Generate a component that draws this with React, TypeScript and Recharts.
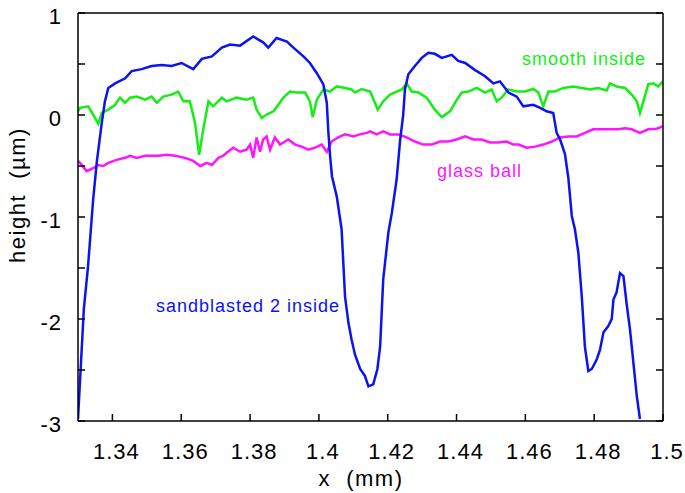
import { LineChart, Line, XAxis, YAxis } from 'recharts';

// readings taken off the profile plot: [x (mm), height (µm)]
const sandblasted: [number, number][] = [
  [1.33, -2.98], [1.3317, -1.9], [1.3329, -1.49], [1.3344, -0.83], [1.3355, -0.45], [1.3369, -0.08],
  [1.3378, 0.13], [1.3388, 0.265], [1.3408, 0.31], [1.3437, 0.36], [1.3456, 0.43], [1.3485, 0.45],
  [1.3514, 0.48], [1.3543, 0.49], [1.3572, 0.48], [1.3601, 0.51], [1.3635, 0.45], [1.366, 0.55],
  [1.3689, 0.575], [1.3718, 0.66], [1.3742, 0.69], [1.3771, 0.68], [1.3809, 0.77], [1.3839, 0.71],
  [1.3853, 0.66], [1.3877, 0.755], [1.3907, 0.72], [1.3926, 0.66], [1.3955, 0.575], [1.3974, 0.51],
  [1.3994, 0.41], [1.4013, 0.3], [1.4023, 0.12], [1.4027, -0.14], [1.4032, -0.38], [1.4038, -0.6],
  [1.4052, -0.8], [1.4066, -1.12], [1.4071, -1.45], [1.4076, -1.78], [1.4086, -2.04], [1.4095, -2.2],
  [1.4105, -2.35], [1.412, -2.49], [1.4134, -2.56], [1.4144, -2.66], [1.4158, -2.64], [1.417, -2.49],
  [1.4178, -2.27], [1.4187, -1.61], [1.4202, -1.15], [1.4212, -0.96], [1.4226, -0.63], [1.4236, -0.25],
  [1.4245, 0.0], [1.425, 0.25], [1.426, 0.4], [1.4279, 0.48], [1.4299, 0.56], [1.4318, 0.61],
  [1.4337, 0.6], [1.4357, 0.56], [1.4386, 0.59], [1.4405, 0.53], [1.4425, 0.51], [1.4454, 0.44],
  [1.4483, 0.38], [1.4507, 0.31], [1.4526, 0.33], [1.4551, 0.22], [1.4575, 0.18], [1.4594, 0.085],
  [1.4623, 0.1], [1.4643, 0.07], [1.4662, 0.036], [1.4681, 0.02], [1.4691, -0.175], [1.4701, -0.24],
  [1.4715, -0.38], [1.4725, -0.62], [1.4735, -0.99], [1.4744, -1.12], [1.4754, -1.35], [1.4764, -1.78],
  [1.4773, -2.27], [1.4783, -2.51], [1.4793, -2.49], [1.4807, -2.4], [1.4817, -2.3], [1.4827, -2.13],
  [1.4841, -2.07], [1.4851, -2.0], [1.4856, -1.81], [1.4865, -1.74], [1.4875, -1.55], [1.4885, -1.58],
  [1.4895, -1.87], [1.4904, -2.1], [1.4914, -2.43], [1.4924, -2.76], [1.4933, -2.98],
];

const smooth: [number, number][] = [
  [1.33, 0.036], [1.3306, 0.07], [1.333, 0.085], [1.3344, 0.004], [1.3359, -0.087], [1.3369, 0.02],
  [1.3388, 0.053], [1.3408, 0.1], [1.3422, 0.17], [1.3437, 0.12], [1.3451, 0.17], [1.3471, 0.18],
  [1.3495, 0.15], [1.3514, 0.18], [1.3529, 0.12], [1.3548, 0.18], [1.3572, 0.2], [1.3591, 0.23],
  [1.3606, 0.134], [1.3625, 0.134], [1.364, -0.077], [1.3652, -0.39], [1.3664, -0.14], [1.3679, 0.134],
  [1.3693, 0.085], [1.3718, 0.17], [1.3732, 0.134], [1.3761, 0.17], [1.379, 0.15], [1.3809, 0.17],
  [1.3819, 0.053], [1.3834, -0.03], [1.3848, 0.004], [1.3868, 0.036], [1.3882, 0.1], [1.3897, 0.17],
  [1.3916, 0.23], [1.3936, 0.22], [1.396, 0.22], [1.3974, 0.134], [1.3982, -0.02], [1.3994, 0.15],
  [1.4013, 0.25], [1.4032, 0.23], [1.4052, 0.28], [1.4076, 0.265], [1.4095, 0.25], [1.4105, 0.22],
  [1.4124, 0.255], [1.4149, 0.23], [1.4171, 0.053], [1.4187, 0.134], [1.4207, 0.2], [1.4226, 0.23],
  [1.4241, 0.25], [1.4255, 0.31], [1.427, 0.23], [1.4289, 0.22], [1.4313, 0.17], [1.4337, 0.053],
  [1.4357, -0.02], [1.4381, 0.036], [1.4401, 0.15], [1.4415, 0.22], [1.4434, 0.23], [1.4459, 0.265],
  [1.4483, 0.22], [1.4502, 0.25], [1.4517, 0.134], [1.4531, 0.17], [1.455, 0.25], [1.4575, 0.23],
  [1.4599, 0.23], [1.4623, 0.255], [1.4638, 0.22], [1.4652, 0.085], [1.4667, 0.23], [1.4686, 0.23],
  [1.471, 0.265], [1.4739, 0.28], [1.4764, 0.265], [1.4788, 0.25], [1.4812, 0.265], [1.4836, 0.24],
  [1.4846, 0.31], [1.4865, 0.28], [1.489, 0.265], [1.4909, 0.2], [1.4924, 0.134], [1.4933, 0.02],
  [1.4943, 0.134], [1.4957, 0.3], [1.4972, 0.31], [1.4986, 0.28], [1.5, 0.33],
];

const glassBall: [number, number][] = [
  [1.33, -0.45], [1.3306, -0.47], [1.3325, -0.55], [1.3344, -0.52], [1.3359, -0.49], [1.3374, -0.5],
  [1.3388, -0.47], [1.3412, -0.44], [1.3437, -0.42], [1.3451, -0.4], [1.3471, -0.42], [1.3495, -0.4],
  [1.3514, -0.4], [1.3533, -0.4], [1.3558, -0.39], [1.3582, -0.4], [1.3611, -0.42], [1.3635, -0.45],
  [1.3655, -0.5], [1.3674, -0.47], [1.3689, -0.49], [1.3708, -0.42], [1.3722, -0.4], [1.3732, -0.37],
  [1.3751, -0.32], [1.3771, -0.36], [1.379, -0.34], [1.38, -0.29], [1.3809, -0.42], [1.3819, -0.22],
  [1.3829, -0.36], [1.3838, -0.24], [1.3848, -0.21], [1.3858, -0.34], [1.3872, -0.22], [1.3887, -0.29],
  [1.3911, -0.24], [1.3931, -0.29], [1.395, -0.31], [1.3969, -0.34], [1.3989, -0.32], [1.4008, -0.29],
  [1.4023, -0.36], [1.4037, -0.26], [1.4056, -0.22], [1.4076, -0.19], [1.41, -0.21], [1.4119, -0.19],
  [1.4139, -0.175], [1.4149, -0.16], [1.4168, -0.19], [1.4187, -0.16], [1.4207, -0.19], [1.4231, -0.19],
  [1.4255, -0.22], [1.4279, -0.26], [1.4303, -0.29], [1.4328, -0.29], [1.4352, -0.26], [1.4376, -0.26],
  [1.44, -0.24], [1.4425, -0.21], [1.4449, -0.24], [1.4473, -0.24], [1.4497, -0.27], [1.4521, -0.27],
  [1.4546, -0.26], [1.4565, -0.29], [1.458, -0.29], [1.4604, -0.32], [1.4628, -0.31], [1.4652, -0.29],
  [1.4677, -0.26], [1.4701, -0.22], [1.4725, -0.21], [1.4749, -0.21], [1.4773, -0.175], [1.4797, -0.14],
  [1.4822, -0.14], [1.4846, -0.14], [1.487, -0.14], [1.489, -0.13], [1.4909, -0.14], [1.4933, -0.175],
  [1.4957, -0.14], [1.4982, -0.135], [1.5, -0.11],
];

const xTicks = [1.34, 1.36, 1.38, 1.4, 1.42, 1.44, 1.46, 1.48, 1.5];
const yTicks = [-3, -2.5, -2, -1.5, -1, -0.5, 0, 0.5, 1];

const FONT = '"Liberation Sans", Arial, Helvetica, sans-serif';

const toPoints = (pairs: [number, number][]) => pairs.map(([x, y]) => ({ x, y }));

export default function App() {
  const tickStyle = { fontSize: 22, fill: '#000', fontFamily: FONT, letterSpacing: 1 };

  return (
    <div style={{ position: 'absolute', left: 0, top: 0, width: 685, height: 493, background: '#fff' }}>
      <LineChart width={685} height={493} margin={{ top: 13, right: 22, bottom: 0, left: 0 }}>
        {/* inward ticks on top and right edges */}
        <XAxis
          xAxisId="top"
          orientation="top"
          mirror
          type="number"
          domain={[1.33, 1.5]}
          allowDataOverflow
          ticks={xTicks}
          tickSize={7}
          tickFormatter={() => ''}
          stroke="#000"
          strokeWidth={1.5}
        />
        <YAxis
          yAxisId="right"
          orientation="right"
          mirror
          type="number"
          domain={[-3, 1]}
          allowDataOverflow
          ticks={yTicks}
          tickSize={7}
          tickFormatter={() => ''}
          stroke="#000"
          strokeWidth={1.5}
        />
        <XAxis
          xAxisId="b"
          dataKey="x"
          type="number"
          domain={[1.33, 1.5]}
          allowDataOverflow
          ticks={xTicks}
          height={72}
          tickSize={-7}
          tickMargin={29}
          tickFormatter={(v: number) => String(Number(v.toFixed(2)))}
          tick={{ ...tickStyle, dx: 4 }}
          stroke="#000"
          strokeWidth={1.5}
        />
        <YAxis
          yAxisId="l"
          type="number"
          domain={[-3, 1]}
          allowDataOverflow
          ticks={yTicks}
          width={78}
          tickSize={-7}
          tickMargin={23}
          tickFormatter={(v: number) => (Number.isInteger(v) ? String(v) : '')}
          tick={{ ...tickStyle, dy: 3 }}
          stroke="#000"
          strokeWidth={1.5}
        />
        <Line
          xAxisId="b"
          yAxisId="l"
          data={toPoints(smooth)}
          dataKey="y"
          stroke="#14ee14"
          strokeWidth={2.5}
          dot={false}
          isAnimationActive={false}
        />
        <Line
          xAxisId="b"
          yAxisId="l"
          data={toPoints(glassBall)}
          dataKey="y"
          stroke="#ff14ff"
          strokeWidth={2.5}
          dot={false}
          isAnimationActive={false}
        />
        <Line
          xAxisId="b"
          yAxisId="l"
          data={toPoints(sandblasted)}
          dataKey="y"
          stroke="#0a14f0"
          strokeWidth={2.5}
          dot={false}
          isAnimationActive={false}
        />
      </LineChart>

      {/* axis titles and curve labels */}
      <svg
        width={685}
        height={493}
        style={{ position: 'absolute', left: 0, top: 0, pointerEvents: 'none' }}
        fontFamily={FONT}
      >
        <text
          x={361}
          y={486}
          textAnchor="middle"
          fontSize={22}
          letterSpacing={1.5}
          fill="#000"
          style={{ whiteSpace: 'pre' }}
        >
          {'x  (mm)'}
        </text>
        <text
          transform="translate(25,195) rotate(-90)"
          textAnchor="middle"
          fontSize={22}
          letterSpacing={1.5}
          fill="#000"
          style={{ whiteSpace: 'pre' }}
        >
          {'height  (µm)'}
        </text>
        <text x={522} y={65} fontSize={18} letterSpacing={1} fill="#14ee14">
          smooth inside
        </text>
        <text x={437} y={177} fontSize={18} letterSpacing={1} fill="#ff14ff">
          glass ball
        </text>
        <text x={156} y={312} fontSize={18} letterSpacing={1} fill="#0a14f0">
          sandblasted 2 inside
        </text>
      </svg>
    </div>
  );
}
